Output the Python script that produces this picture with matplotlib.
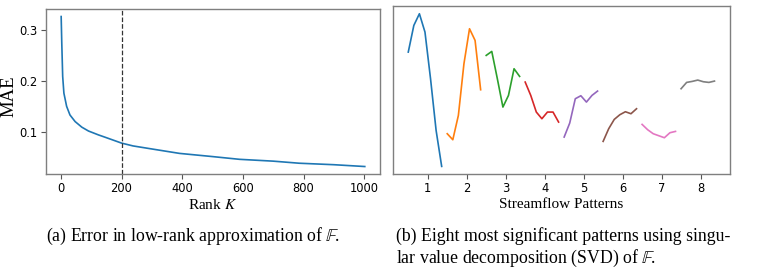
import numpy as np
import matplotlib
matplotlib.use("Agg")
import matplotlib.pyplot as plt

plt.rcParams["mathtext.fontset"] = "stix"

# (a) reconstruction error vs. rank K
rank_k = [1, 3, 6, 10, 19, 30, 47, 69, 91, 124, 147, 200, 238, 300, 391,
          500, 589, 700, 786, 900, 1002]
mae = [0.327, 0.275, 0.209, 0.176, 0.150, 0.133, 0.120, 0.109, 0.1014,
       0.0937, 0.0889, 0.0776, 0.072, 0.066, 0.0573, 0.051, 0.0456, 0.042,
       0.0379, 0.035, 0.0314]
k_chosen = 200

# (b) eight leading SVD patterns, 7 samples each (arbitrary units)
patterns = [
    [0.140, 0.220, 0.255, 0.200, 0.060, -0.095, -0.203],
    [-0.105, -0.123, -0.050, 0.105, 0.210, 0.175, 0.027],
    [0.130, 0.142, 0.060, -0.025, 0.010, 0.090, 0.067],
    [0.050, 0.010, -0.040, -0.060, -0.040, -0.040, -0.070],
    [-0.115, -0.073, 0.000, 0.009, -0.010, 0.010, 0.023],
    [-0.128, -0.090, -0.062, -0.048, -0.039, -0.045, -0.030],
    [-0.077, -0.093, -0.105, -0.111, -0.117, -0.102, -0.098],
    [0.030, 0.049, 0.052, 0.056, 0.051, 0.049, 0.053],
]
pattern_ticks = [1, 2, 3, 4, 5, 6, 7, 8]

fig = plt.figure(figsize=(7.69, 2.78), dpi=100)
ax1 = fig.add_axes([0.0598, 0.374, 0.4343, 0.5935])
ax2 = fig.add_axes([0.511, 0.374, 0.438, 0.604])

spine_col = "#7f7f7f"
for ax in (ax1, ax2):
    for sp in ax.spines.values():
        sp.set_color(spine_col)
        sp.set_linewidth(1.0)
    ax.tick_params(labelsize=8.3, color="#555555", length=3.5, pad=2.5)

# left: error curve
ax1.plot(rank_k, mae, color="tab:blue", linewidth=1.2)
ax1.axvline(k_chosen, color="#333333", linestyle="--", linewidth=0.9)
ax1.set_xticks([0, 200, 400, 600, 800, 1000])
ax1.set_yticks([0.1, 0.2, 0.3])
ax1.set_xlabel(r"Rank $K$", family="Liberation Serif", fontsize=11, labelpad=2)
ax1.set_ylabel("MAE", family="Liberation Serif", fontsize=13.5)
ax1.yaxis.set_label_coords(-0.085, 0.47)

# right: patterns side by side
for i, vals in enumerate(patterns):
    k = pattern_ticks[i]
    xs = [k - 0.5 + j / 7 for j in range(len(vals))]
    ax2.plot(xs, vals, linewidth=1.2)
ax2.set_xticks(pattern_ticks)
ax2.set_yticks([])
ax2.set_xlabel("Streamflow Patterns", family="Liberation Serif",
               fontsize=11, labelpad=2)

# captions
cap = dict(family="Liberation Serif", fontsize=12.8, va="center", ha="left")
fig.text(46 / 769, 1 - 236 / 278,
         r"(a) Error in low-rank approximation of $\mathbb{F}$.", **cap)
fig.text(396 / 769, 1 - 236.5 / 278,
         "(b) Eight most significant patterns using singu-", **cap)
fig.text(396 / 769, 1 - 258.5 / 278,
         r"lar value decomposition (SVD) of $\mathbb{F}$.", **cap)

fig.savefig("out.png", dpi=100)
